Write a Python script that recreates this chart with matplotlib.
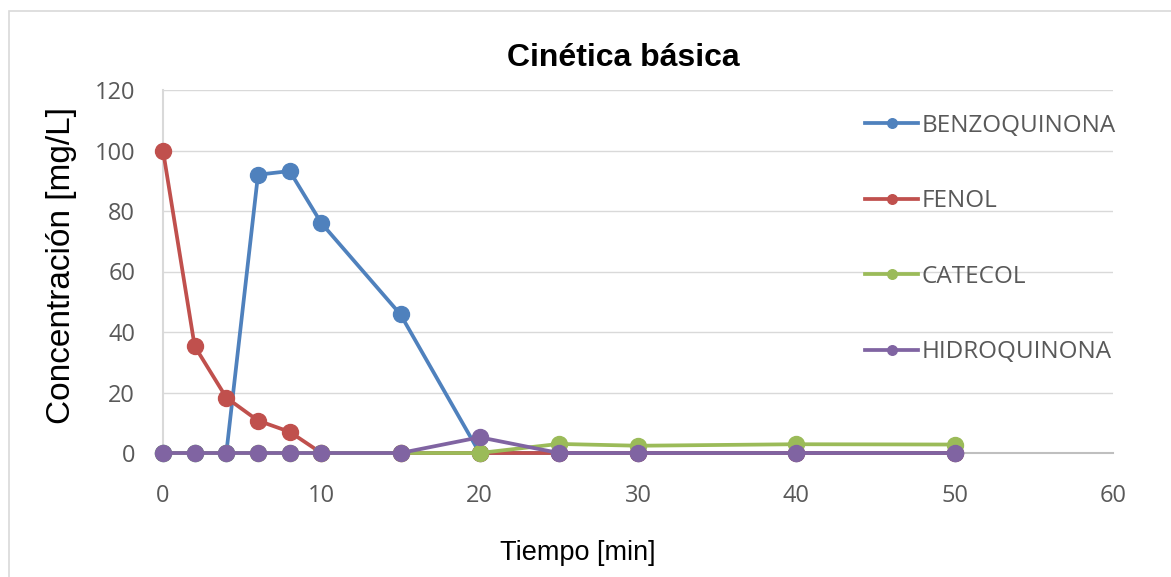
import matplotlib
matplotlib.use("Agg")
import matplotlib.pyplot as plt
from matplotlib.patches import Rectangle

# ============ datos ============
tiempo = [0, 2, 4, 6, 8, 10, 15, 20, 25, 30, 40, 50]
benzoquinona = [0, 0, 0, 92, 93.2, 76, 45.8, 0, 0, 0, 0, 0]
fenol = [100, 35.3, 18.3, 10.7, 7, 0, 0, 0, 0, 0, 0, 0]
catecol = [0, 0, 0, 0, 0, 0, 0, 0, 3.0, 2.4, 2.9, 2.8]
hidroquinona = [0, 0, 0, 0, 0, 0, 0, 5.2, 0, 0, 0, 0]

series = [
    ("BENZOQUINONA", benzoquinona, "#4F81BD"),
    ("FENOL", fenol, "#C0504D"),
    ("CATECOL", catecol, "#9BBB59"),
    ("HIDROQUINONA", hidroquinona, "#8064A2"),
]

W, H = 1171, 577
fig = plt.figure(figsize=(W / 100, H / 100), dpi=100)
# borde del área del gráfico
fig.patches.append(Rectangle((9 / W, -0.1), 1.2, 1 - 11 / H + 0.1,
                             transform=fig.transFigure, fill=False,
                             edgecolor="#D9D9D9", linewidth=1.2))

ax = fig.add_axes([163 / W, 1 - 453 / H, (1113 - 163) / W, (453 - 90) / H])

for name, vals, color in series:
    ax.plot(tiempo, vals, color=color, linewidth=2.7, marker="o",
            markersize=11.5, label=name, clip_on=False, zorder=3)

ax.set_xlim(0, 60)
ax.set_ylim(0, 120)
ax.set_xticks(range(0, 61, 10))
ax.set_yticks(range(0, 121, 20))
ax.grid(axis="y", color="#D9D9D9", linewidth=1)
ax.set_axisbelow(True)
for s in ["top", "right"]:
    ax.spines[s].set_visible(False)
ax.spines["left"].set_color("#D9D9D9")
ax.spines["left"].set_linewidth(1.5)
ax.spines["bottom"].set_color("#BFBFBF")
ax.spines["bottom"].set_linewidth(1.5)
ax.tick_params(length=0, labelsize=17, labelcolor="#595959", pad=20)
for lab in ax.get_xticklabels() + ax.get_yticklabels():
    lab.set_family("Open Sans")
ax.tick_params(axis="x", pad=22)

fig.text(623 / W, 1 - 58 / H, "Cinética básica", fontsize=23,
         fontweight="bold", family="Liberation Sans", ha="center", va="center")
fig.text(62 / W, 1 - 266 / H, "Concentración [mg/L]", fontsize=24,
         family="Liberation Sans", rotation=90, ha="center", va="center")
fig.text(578 / W, 1 - 553 / H, "Tiempo [min]", fontsize=19.5,
         family="Liberation Sans", ha="center", va="center")

leg = fig.legend(loc="center left", bbox_to_anchor=(865 / W, 1 - 239 / H),
                 frameon=False, borderpad=0, borderaxespad=0,
                 handlelength=2.2, handletextpad=0.12, labelspacing=2.12,
                 markerscale=0.6, prop={"family": "Open Sans", "size": 17.5})
for t in leg.get_texts():
    t.set_color("#595959")

fig.savefig("out.png", dpi=100)
